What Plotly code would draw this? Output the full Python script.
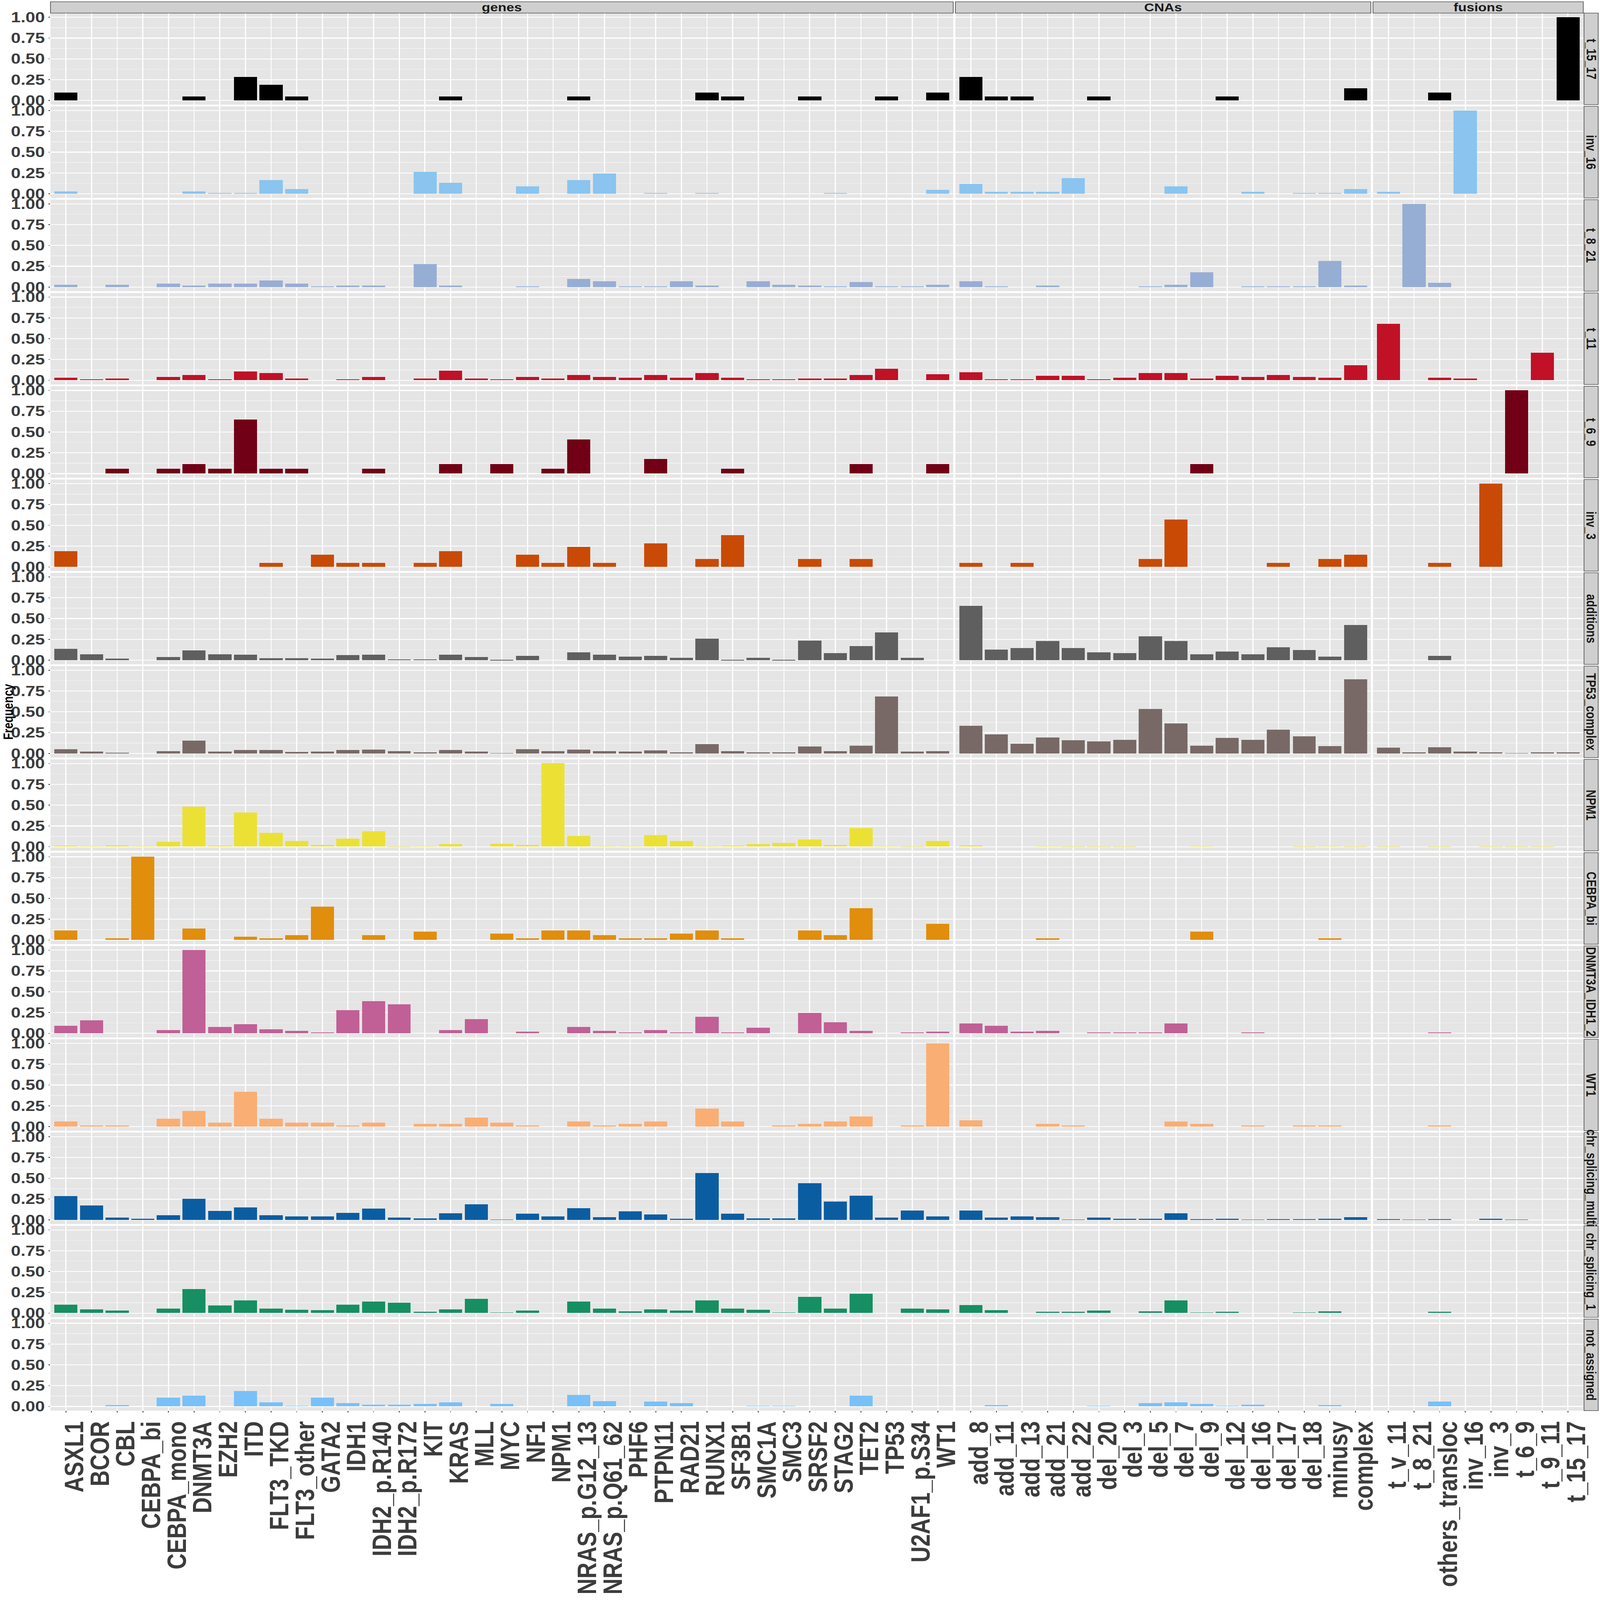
import plotly.graph_objects as go
from plotly.subplots import make_subplots

# x categories per facet column
GENES = [
    "ASXL1", "BCOR", "CBL", "CEBPA_bi", "CEBPA_mono", "DNMT3A", "EZH2", "ITD",
    "FLT3_TKD", "FLT3_other", "GATA2", "IDH1", "IDH2_p.R140", "IDH2_p.R172",
    "KIT", "KRAS", "MLL", "MYC", "NF1", "NPM1", "NRAS_p.G12_13",
    "NRAS_p.Q61_62", "PHF6", "PTPN11", "RAD21", "RUNX1", "SF3B1", "SMC1A",
    "SMC3", "SRSF2", "STAG2", "TET2", "TP53", "U2AF1_p.S34", "WT1",
]
CNAS = [
    "add_8", "add_11", "add_13", "add_21", "add_22", "del_20", "del_3", "del_5",
    "del_7", "del_9", "del_12", "del_16", "del_17", "del_18", "minusy", "complex",
]
FUSIONS = [
    "t_v_11", "t_8_21", "others_transloc", "inv_16", "inv_3", "t_6_9",
    "t_9_11", "t_15_17",
]
COLUMN_TITLES = ["genes", "CNAs", "fusions"]

# frequencies per subgroup: 35 genes, then 16 CNAs, then 8 fusions
T_15_17 = [
    .095, 0, 0, 0, 0, .048, 0, .286, .19, .048, 0, 0, 0, 0, 0, .048, 0, 0,
    0, 0, .048, 0, 0, 0, 0, .095, .048, 0, 0, .048, 0, 0, .048, 0, .095,
    .286, .048, .048, 0, 0, .048, 0, 0, 0, 0, .048, 0, 0, 0, 0, .143,
    0, 0, .095, 0, 0, 0, 0, 1.0,
]
INV_16 = [
    .031, 0, 0, 0, 0, .031, .011, .011, .165, .056, 0, 0, 0, 0, .263, .129,
    0, 0, .087, 0, .165, .241, 0, .011, 0, .011, 0, 0, 0, 0, .011, 0, 0, 0,
    .047,
    .118, .022, .022, .022, .187, 0, 0, 0, .087, 0, 0, .022, 0, .011, .011,
    .058,
    .022, 0, 0, 1.0, 0, 0, 0, 0,
]
T_8_21 = [
    .029, 0, .029, 0, .04, .018, .038, .04, .078, .04, .009, .018, .018, 0,
    .276, .018, 0, 0, .009, 0, .098, .067, .009, .009, .067, .018, 0, .067,
    .029, .018, .009, .06, .009, .009, .029,
    .067, .009, 0, .018, 0, 0, 0, .009, .029, .178, 0, .009, .009, .009,
    .316, .018,
    0, 1.0, .049, 0, 0, 0, 0, 0,
]
T_11 = [
    .033, .011, .022, 0, .041, .063, .011, .105, .085, .022, 0, .011, .041, 0,
    .022, .115, .022, .011, .041, .022, .063, .041, .033, .063, .033, .085,
    .033, .011, .011, .022, .022, .063, .137, 0, .074,
    .094, .011, .011, .052, .052, .011, .033, .085, .085, .022, .052, .041,
    .063, .041, .033, .181,
    .68, 0, .033, .022, 0, 0, .329, 0,
]
T_6_9 = [
    0, 0, .059, 0, .059, .118, .059, .647, .059, .059, 0, 0, .059, 0, 0, .118,
    0, .118, 0, .059, .412, 0, 0, .176, 0, 0, .059, 0, 0, 0, 0, .118, 0, 0,
    .118,
    0, 0, 0, 0, 0, 0, 0, 0, 0, .118, 0, 0, 0, 0, 0, 0,
    0, 0, 0, 0, 0, 1.0, 0, 0,
]
INV_3 = [
    .19, 0, 0, 0, 0, 0, 0, 0, .048, 0, .143, .048, .048, 0, .048, .19, 0, 0,
    .143, .048, .238, .048, 0, .286, 0, .095, .381, 0, 0, .095, 0, .095, 0,
    0, 0,
    .048, 0, .048, 0, 0, 0, 0, .095, .571, 0, 0, 0, .048, 0, .095, .143,
    0, 0, .048, 0, 1.0, 0, 0, 0,
]
ADDITIONS = [
    .137, .072, .02, 0, .039, .115, .072, .063, .022, .022, .02, .061, .063,
    .009, .011, .063, .039, .002, .05, 0, .092, .063, .044, .05, .028, .259,
    .002, .028, .002, .237, .085, .168, .335, .028, 0,
    .656, .126, .148, .229, .144, .092, .085, .288, .231, .072, .102, .072,
    .155, .124, .044, .423,
    0, 0, .054, 0, 0, 0, 0, 0,
]
TP53_COMPLEX = [
    .05, .022, .007, 0, .026, .154, .022, .039, .043, .02, .022, .043, .046,
    .028, .017, .043, .022, .004, .05, .028, .046, .028, .022, .035, .017,
    .113, .026, .015, .011, .085, .026, .091, .687, .022, .026,
    .335, .23, .115, .189, .157, .143, .161, .533, .363, .091, .185, .167,
    .287, .209, .087, .891,
    .067, .011, .074, .022, .015, .004, .011, .015,
]
NPM1 = [
    .013, .009, .02, .009, .059, .479, .013, .409, .164, .072, .024, .096,
    .188, .004, .009, .031, 0, .037, .024, 1.0, .131, .009, .009, .142, .068,
    .009, .013, .033, .042, .09, .024, .225, .009, .002, .068,
    .02, 0, 0, .009, .004, .002, .002, 0, 0, .009, 0, 0, 0, .002, .009, .002,
    .002, 0, .004, 0, .002, .002, .002, 0,
]
CEBPA_BI = [
    .118, 0, .02, 1.0, 0, .137, 0, .039, .02, .059, .404, 0, .059, 0, .098, 0,
    0, .078, .02, .118, .118, .059, .02, .02, .078, .118, .02, 0, 0, .118,
    .059, .384, 0, 0, .196,
    0, 0, 0, .02, 0, 0, 0, 0, 0, .098, 0, 0, 0, 0, .02, 0,
    0, 0, 0, 0, 0, 0, 0, 0,
]
DNMT3A_IDH1_2 = [
    .09, .159, 0, 0, .039, 1.0, .079, .109, .05, .031, .011, .277, .386, .347,
    0, .039, .17, 0, .02, 0, .079, .031, .011, .039, .011, .197, .011, .068,
    0, .247, .129, .031, 0, .011, .02,
    .118, .09, .02, .031, 0, .011, .011, .011, .118, 0, 0, .011, 0, 0, 0, 0,
    0, 0, .011, 0, 0, 0, 0, 0,
]
WT1 = [
    .059, .017, .017, 0, .092, .186, .046, .417, .092, .046, .046, .017, .046,
    0, .033, .033, .109, .046, .017, 0, .059, .017, .033, .059, 0, .214, .059,
    0, .017, .033, .059, .122, 0, .017, 1.0,
    .076, 0, 0, .033, .017, 0, 0, 0, .059, .033, 0, .017, 0, .017, .017, 0,
    0, 0, .017, 0, 0, 0, 0, 0,
]
CHR_SPLICING_MULTI = [
    .284, .173, .031, .016, .055, .253, .111, .153, .055, .038, .038, .086,
    .137, .027, .02, .08, .186, .004, .073, .038, .142, .033, .104, .064, .016,
    .559, .075, .02, .02, .443, .217, .29, .031, .113, .038,
    .113, .031, .044, .033, .004, .027, .013, .013, .082, .009, .013, .004,
    .007, .007, .016, .033,
    .009, .002, .009, 0, .016, .002, 0, 0,
]
CHR_SPLICING_1 = [
    .102, .047, .029, 0, .055, .288, .091, .151, .055, .04, .035, .102, .14,
    .126, .018, .047, .171, .007, .029, 0, .14, .053, .024, .047, .029, .153,
    .055, .04, .007, .193, .055, .237, 0, .055, .047,
    .095, .035, 0, .016, .016, .029, 0, .022, .153, .007, .018, 0, 0, .007,
    .024, 0,
    0, 0, .018, 0, 0, 0, 0, 0,
]
NOT_ASSIGNED = [
    0, 0, .016, 0, .107, .131, 0, .187, .049, .007, .107, .04, .024, .024,
    .031, .049, 0, .031, 0, 0, .138, .065, 0, .056, .04, 0, 0, .007, .007, 0,
    0, .131, 0, 0, 0,
    0, .016, 0, 0, 0, .007, 0, .04, .049, .031, .007, .024, 0, 0, .016, 0,
    0, 0, .056, 0, 0, 0, 0, 0,
]

GROUPS = [
    ("t_15_17", "#000000", T_15_17),
    ("inv_16", "#8AC4EF", INV_16),
    ("t_8_21", "#97AED4", T_8_21),
    ("t_11", "#C01127", T_11),
    ("t_6_9", "#710016", T_6_9),
    ("inv_3", "#C94A05", INV_3),
    ("additions", "#5F5F5F", ADDITIONS),
    ("TP53_complex", "#786967", TP53_COMPLEX),
    ("NPM1", "#EBE135", NPM1),
    ("CEBPA_bi", "#E08E0B", CEBPA_BI),
    ("DNMT3A_IDH1_2", "#C06096", DNMT3A_IDH1_2),
    ("WT1", "#F9AE74", WT1),
    ("chr_splicing_multi", "#0B5DA2", CHR_SPLICING_MULTI),
    ("chr_splicing_1", "#168F62", CHR_SPLICING_1),
    ("not_assigned", "#78C0F7", NOT_ASSIGNED),
]

W, H = 4500, 5500
M_L, M_R, M_T, M_B = 142, 47, 45, 651
PW, PH = W - M_L - M_R, H - M_T - M_B
N_ROWS = len(GROUPS)
COLUMNS = [GENES, CNAS, FUSIONS]

# free x space: panel widths proportional to category counts (+0.6 expansion each side)
widths = [len(c) + 0.2 for c in COLUMNS]

fig = make_subplots(
    rows=N_ROWS,
    cols=3,
    column_widths=widths,
    horizontal_spacing=6 / PW,
    vertical_spacing=6 / PH,
    shared_xaxes=True,
)

n_genes, n_cnas = len(GENES), len(CNAS)
for r, (name, color, values) in enumerate(GROUPS):
    parts = [
        values[:n_genes],
        values[n_genes:n_genes + n_cnas],
        values[n_genes + n_cnas:],
    ]
    for c, (cats, vals) in enumerate(zip(COLUMNS, parts)):
        fig.add_trace(
            go.Bar(
                x=cats,
                y=vals,
                width=0.9,
                marker=dict(color=color, line=dict(width=0)),
                showlegend=False,
                hovertemplate=f"{name}<br>%{{x}}: %{{y:.3f}}<extra></extra>",
            ),
            row=r + 1,
            col=c + 1,
        )

label_font = dict(family="Liberation Sans", color="#3C3C3C", weight="bold")

for c, cats in enumerate(COLUMNS):
    fig.update_xaxes(
        type="category",
        categoryorder="array",
        categoryarray=cats,
        tickmode="array",
        tickvals=cats,
        ticktext=cats,
        range=[-0.6, len(cats) - 0.4],
        showgrid=True,
        gridcolor="white",
        gridwidth=3,
        zeroline=False,
        showline=False,
        ticks="",
        showticklabels=False,
        automargin=False,
        col=c + 1,
    )
    fig.update_xaxes(
        ticks="outside",
        ticklen=5,
        tickwidth=2,
        tickcolor="#333333",
        showticklabels=True,
        tickangle=-90,
        ticklabelshift=24,
        tickfont=dict(size=76, **label_font),
        row=N_ROWS,
        col=c + 1,
    )

fig.update_yaxes(
    range=[-0.05, 1.05],
    tickvals=[0, 0.25, 0.5, 0.75, 1.0],
    ticktext=["0.00", "0.25", "0.50", "0.75", "1.00"],
    showgrid=True,
    gridcolor="white",
    gridwidth=3,
    minor=dict(
        tickvals=[0.125, 0.375, 0.625, 0.875],
        showgrid=True,
        gridcolor="#F2F2F2",
        gridwidth=1.5,
    ),
    zeroline=False,
    showline=False,
    ticks="",
    showticklabels=False,
    automargin=False,
)
fig.update_yaxes(
    ticks="outside",
    ticklen=5,
    tickwidth=2,
    tickcolor="#333333",
    showticklabels=True,
    tickfont=dict(size=49, **label_font),
    col=1,
)

# facet strips, drawn as shapes in paper coordinates
strip_fill, strip_line = "#CFCFCF", "#555555"
shapes, annotations = [], []
top = 1 + 39 / PH
for c, title in enumerate(COLUMN_TITLES):
    dom = fig.layout[f"xaxis{c + 1}"].domain
    shapes.append(dict(
        type="rect", xref="paper", yref="paper",
        x0=dom[0], x1=dom[1], y0=1.0, y1=top,
        fillcolor=strip_fill, line=dict(color=strip_line, width=2), layer="below",
    ))
    annotations.append(dict(
        text=title, xref="paper", yref="paper",
        x=(dom[0] + dom[1]) / 2, y=(1.0 + top) / 2,
        showarrow=False, xanchor="center", yanchor="middle",
        font=dict(family="Liberation Sans", size=39, color="#1A1A1A", weight="bold"),
    ))

x0_strip, x1_strip = 1 + 2 / PW, 1 + 42 / PW
for r, (name, _, _) in enumerate(GROUPS):
    yname = "yaxis" if r == 0 else f"yaxis{r * 3 + 1}"
    dom = fig.layout[yname].domain
    shapes.append(dict(
        type="rect", xref="paper", yref="paper",
        x0=x0_strip, x1=x1_strip, y0=dom[0], y1=dom[1],
        fillcolor=strip_fill, line=dict(color=strip_line, width=2), layer="below",
    ))
    annotations.append(dict(
        text=name, xref="paper", yref="paper",
        x=(x0_strip + x1_strip) / 2, y=(dom[0] + dom[1]) / 2,
        textangle=90, showarrow=False, xanchor="center", yanchor="middle",
        font=dict(family="Liberation Sans", size=38, color="#1A1A1A", weight="bold"),
    ))

# y axis title
annotations.append(dict(
    text="Frequency", xref="paper", yref="paper",
    x=(23 - M_L) / PW, y=0.5, textangle=-90, showarrow=False,
    xanchor="center", yanchor="middle",
    font=dict(family="Liberation Sans", size=38, color="#000000", weight="bold"),
))

fig.update_layout(
    template="none",
    width=W,
    height=H,
    margin=dict(l=M_L, r=M_R, t=M_T, b=M_B, autoexpand=False),
    paper_bgcolor="white",
    plot_bgcolor="#E5E5E5",
    font=dict(family="Liberation Sans"),
    shapes=shapes,
    annotations=annotations,
    bargap=0,
)

# the figure is laid out at 4500x5500; if the window is a different size,
# scale the whole page to fill it so nothing is cut off
fit_window = (
    "document.documentElement.style.margin='0';"
    "document.body.style.margin='0';"
    "document.body.style.overflow='hidden';"
    "var gd=document.getElementById('{plot_id}');"
    "var sx=window.innerWidth/%d, sy=window.innerHeight/%d;"
    "if(Math.abs(sx-1)>0.002||Math.abs(sy-1)>0.002){"
    "gd.style.transformOrigin='0 0';"
    "gd.style.transform='scale('+sx+','+sy+')';}"
) % (W, H)
fig.write_html(
    "out.html",
    default_width=f"{W}px",
    default_height=f"{H}px",
    config={"displayModeBar": False},
    post_script=fit_window,
)
